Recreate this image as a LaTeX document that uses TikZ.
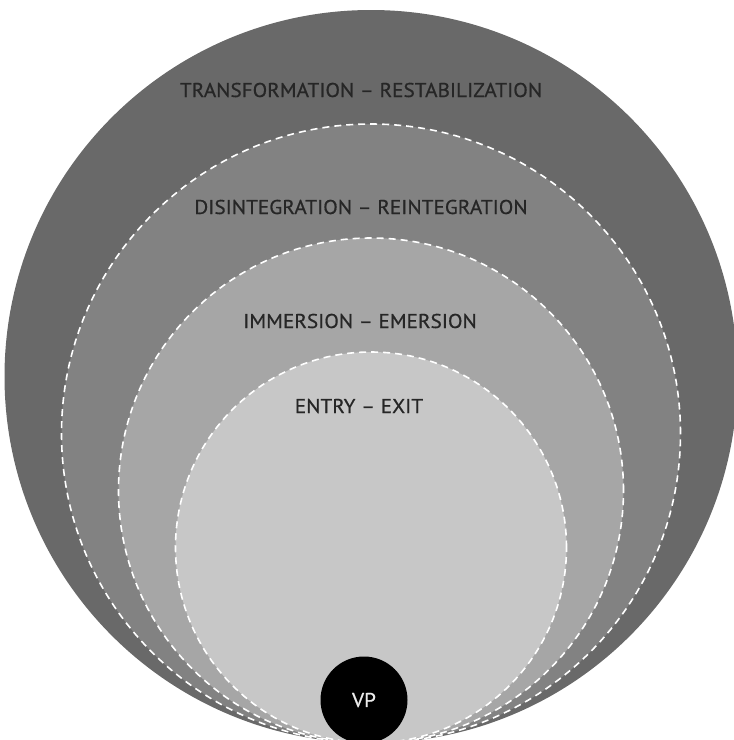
\documentclass[tikz,border=0pt]{standalone}
\usepackage{fontspec}
\setmainfont{PT Sans}[FakeStretch=1.06,FakeBold=0.6]
\begin{document}
\begin{tikzpicture}[x=1pt,y=-1pt,
  ring/.style={circle,inner sep=0pt,outer sep=0pt},
  dashring/.style={ring,draw=white,line width=1.6pt,dash pattern=on 7pt off 5pt},
  lbl/.style={text=black!85,font=\fontsize{20}{24}\selectfont,inner sep=0pt,anchor=center}
]
\useasboundingbox (0,0) rectangle (734,740);
\clip (0,0) rectangle (734,740);
\definecolor{ringA}{gray}{0.41}
\definecolor{ringB}{gray}{0.51}
\definecolor{ringC}{gray}{0.65}
\definecolor{ringD}{gray}{0.78}
\node[ring,fill=ringA,minimum size=733pt] (c1) at (371,376.5) {};
\node[dashring,fill=ringB,minimum size=619pt] (c2) at (371,433.5) {};
\node[dashring,fill=ringC,minimum size=505pt] (c3) at (371,490.5) {};
\node[dashring,fill=ringD,minimum size=391pt] (c4) at (371,547.5) {};
\node[ring,fill=black,minimum size=87pt] (vp) at (364,700) {};
\node[lbl,text=white!92!black] (vpl) at (vp.center) {VP};
\node[lbl] (t1) at (361,90) {TRANSFORMATION – RESTABILIZATION};
\node[lbl] (t2) at (361,207) {DISINTEGRATION – REINTEGRATION};
\node[lbl] (t3) at (360,321) {IMMERSION – EMERSION};
\node[lbl] (t4) at (359,406) {ENTRY – EXIT};
\end{tikzpicture}
\end{document}
